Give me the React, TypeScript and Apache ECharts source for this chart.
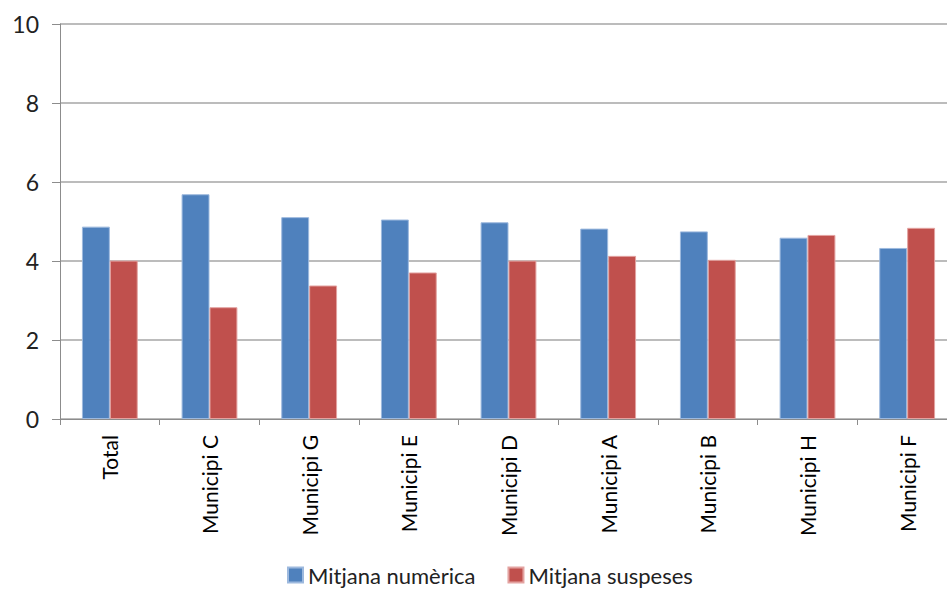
import React, { useEffect, useRef } from "react";
import * as echarts from "echarts";

const categories = ["Total", "Municipi C", "Municipi G", "Municipi E", "Municipi D", "Municipi A", "Municipi B", "Municipi H", "Municipi F"];
const mitjanaNumerica = [4.87, 5.69, 5.11, 5.05, 4.98, 4.82, 4.75, 4.59, 4.33];
const mitjanaSuspeses = [4.01, 2.83, 3.38, 3.71, 4.01, 4.13, 4.03, 4.66, 4.84];
const seriesNames = ["Mitjana numèrica", "Mitjana suspeses"];

export default function App() {
  const ref = useRef<HTMLDivElement>(null);
  useEffect(() => {
    if (!ref.current) return;
    const chart = echarts.init(ref.current, null, { renderer: "svg" });
    const font = "Lato, 'Open Sans', 'DejaVu Sans', sans-serif";
    chart.setOption({
      animation: false,
      backgroundColor: "#ffffff",
      textStyle: { fontFamily: font },
      grid: { left: 60, top: 24, height: 395, width: 897, containLabel: false },
      legend: {
        left: 282,
        top: 562,
        padding: [2, 5, 0, 5],
        itemWidth: 15,
        itemHeight: 15,
        itemGap: 32,
        icon: "rect",
        textStyle: { fontSize: 22, lineHeight: 22, color: "#222", fontFamily: font },
        data: seriesNames,
      },
      xAxis: {
        type: "category",
        data: categories,
        boundaryGap: true,
        axisLine: { lineStyle: { color: "#8c8c8c", width: 1 } },
        axisTick: { show: true, length: 6, alignWithLabel: false, lineStyle: { color: "#8c8c8c" } },
        axisLabel: { rotate: 90, margin: 16, fontSize: 21, fontWeight: "normal", color: "#000", fontFamily: font, interval: 0 },
      },
      yAxis: {
        type: "value",
        min: 0,
        max: 10,
        interval: 2,
        axisLine: { show: true, lineStyle: { color: "#8c8c8c", width: 1 } },
        axisTick: { show: true, length: 8, lineStyle: { color: "#8c8c8c" } },
        axisLabel: { fontSize: 23, color: "#222", margin: 21, fontFamily: font },
        splitLine: { lineStyle: { color: "#a6a6a6", width: 1.5 } },
      },
      series: [
        {
          name: seriesNames[0],
          type: "bar",
          data: mitjanaNumerica,
          barGap: "0%",
          barCategoryGap: "44%",
          itemStyle: { color: "#4F81BD", borderColor: "#9DB9DE", borderWidth: 1 },
        },
        {
          name: seriesNames[1],
          type: "bar",
          data: mitjanaSuspeses,
          barGap: "0%",
          barCategoryGap: "44%",
          itemStyle: { color: "#C0504D", borderColor: "#E3A3A1", borderWidth: 1 },
        },
      ],
    });
    return () => chart.dispose();
  }, []);
  return (
    <div style={{ position: "fixed", left: 0, top: 0, width: 947, height: 589, overflow: "hidden", background: "#fff" }}>
      <div ref={ref} style={{ position: "absolute", left: 0, top: 0, width: 960, height: 589 }} />
    </div>
  );
}
